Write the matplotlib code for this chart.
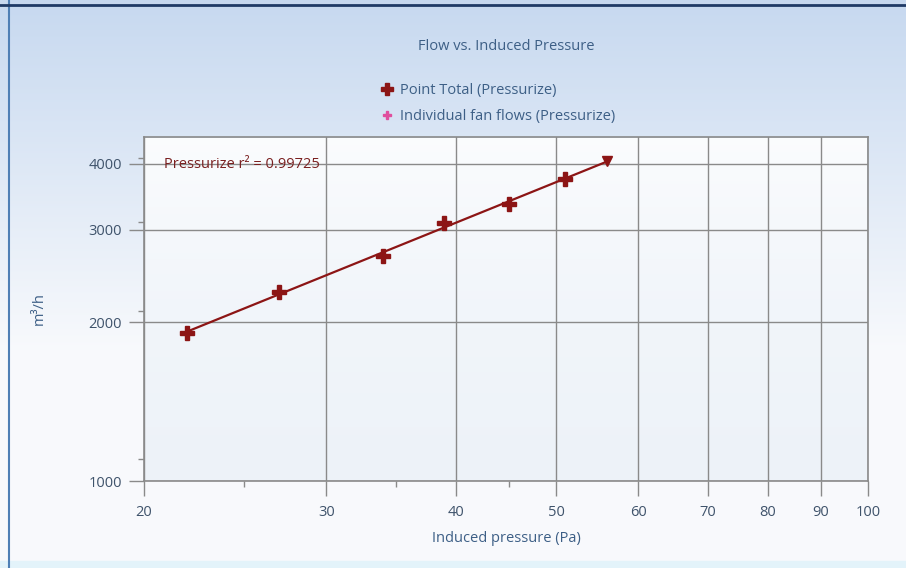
import matplotlib.pyplot as plt
import numpy as np
from matplotlib.lines import Line2D
from matplotlib.ticker import FixedLocator, NullFormatter

plt.rcParams['font.family'] = ['Open Sans', 'DejaVu Sans']

# values
pressure = [22, 27, 34, 39, 45, 51]          # Pa
flow = [1906, 2290, 2680, 3094, 3362, 3749]  # m3/h
fit_end = 56
r2_text = 'Pressurize r² = 0.99725'

x_ticks = [20, 30, 40, 50, 60, 70, 80, 90, 100]
x_minor = [25, 35, 45]
y_ticks = [1000, 2000, 3000, 4000]
y_minor = [1100, 2100, 3100, 4100]

text_blue = '#3d5f86'
tick_blue = '#3f536b'
red = '#8c1515'
grid_grey = '#8a8a8a'

fig = plt.figure(figsize=(9.06, 5.68), dpi=100)

# window-like background with a vertical gradient
bg = fig.add_axes([0, 0, 1, 1], zorder=-10)
grad = np.linspace(0, 1, 256)[:, None]
top_c = np.array([0.78, 0.85, 0.94])
bot_c = np.array([0.975, 0.98, 0.99])
w = np.clip(grad * 1.6, 0, 1)
img = top_c * (1 - w)[..., None] + bot_c * w[..., None]
img = np.repeat(img, 2, axis=1)
bg.imshow(img, aspect='auto', extent=[0, 1, 0, 1], origin='upper')
bg.axhspan(0, 0.012, color='#e3f3fa')
bg.axvline(0.010, color='#4f7fb5', lw=1.5)
bg.axhline(0.991, color='#1f3a66', lw=2)
bg.set_xlim(0, 1)
bg.set_ylim(0, 1)
bg.axis('off')

ax = fig.add_axes([144 / 906, 1 - 481 / 568, 724 / 906, 344 / 568])
ax.set_facecolor('none')

# faint gradient inside plot area
pa = np.linspace(0, 1, 256)[:, None]
pcol = np.array([0.985, 0.99, 0.995]) * (1 - pa)[..., None] + np.array([0.93, 0.95, 0.975]) * pa[..., None]
pcol = np.repeat(pcol, 2, axis=1)
ax.imshow(pcol, aspect='auto', extent=[20, 100, 1000, 4500], origin='upper', zorder=0,
          transform=ax.transData)

ax.set_xscale('log')
ax.set_yscale('log')
ax.set_xlim(20, 100)
ax.set_ylim(1000, 4500)

ax.xaxis.set_major_locator(FixedLocator(x_ticks))
ax.xaxis.set_minor_locator(FixedLocator(x_minor))
ax.set_xticklabels([str(t) for t in x_ticks])
ax.xaxis.set_minor_formatter(NullFormatter())
ax.yaxis.set_major_locator(FixedLocator(y_ticks))
ax.yaxis.set_minor_locator(FixedLocator(y_minor))
ax.set_yticklabels([str(t) for t in y_ticks])
ax.yaxis.set_minor_formatter(NullFormatter())

ax.grid(True, which='major', color=grid_grey, lw=1.0, zorder=1)
ax.tick_params(axis='both', which='major', colors=grid_grey, labelcolor=tick_blue,
               labelsize=10.5, length=11, width=1)
ax.tick_params(axis='both', which='minor', colors=grid_grey, length=4, width=1)
ax.tick_params(axis='x', pad=6)
ax.tick_params(axis='y', pad=5)
for s in ax.spines.values():
    s.set_color(grid_grey)
    s.set_linewidth(1.2)

# power-law fit line with end marker
lx = np.log10(pressure)
ly = np.log10(flow)
slope, icpt = np.polyfit(lx, ly, 1)
fx = np.array([pressure[0], fit_end])
fy = 10 ** (icpt + slope * np.log10(fx))
ax.plot(fx, fy, color=red, lw=1.6, zorder=3)
ax.plot(fx[-1:], fy[-1:], marker='v', color=red, ms=6.5, ls='none', zorder=4)

ax.plot(pressure, flow, ls='none', marker='P', color=red, ms=9.5, mec=red,
        zorder=5, label='Point Total (Pressurize)')

ax.text(0.028, 0.92, r2_text, transform=ax.transAxes, color='#7a2020',
        fontsize=10.5, va='center', ha='left', zorder=6)

ax.set_xlabel('Induced pressure (Pa)', color=text_blue, fontsize=10.5, labelpad=8)
ax.set_ylabel('m³/h', color=text_blue, fontsize=10.5, labelpad=30)

fig.text(506 / 906, 1 - 47 / 568, 'Flow vs. Induced Pressure', color=text_blue,
         fontsize=10.5, ha='center', va='center')

handles = [
    Line2D([], [], ls='none', marker='P', color=red, ms=9),
    Line2D([], [], ls='none', marker='P', color='#e04f9e', ms=6),
]
labels = ['Point Total (Pressurize)', 'Individual fan flows (Pressurize)']
leg = fig.legend(handles, labels, loc='upper left', bbox_to_anchor=(374 / 906, 1 - 76 / 568),
                 frameon=False, fontsize=10.5, handlelength=0.8, handletextpad=0.5,
                 labelspacing=0.75, borderpad=0)
for t in leg.get_texts():
    t.set_color(text_blue)

plt.savefig('out.png', dpi=100)
